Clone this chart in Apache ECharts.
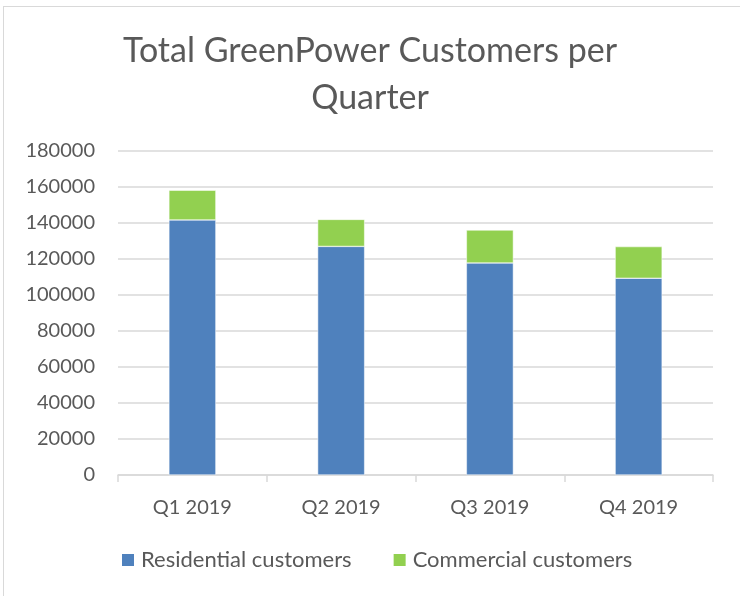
<!DOCTYPE html>
<html>
<head>
<meta charset="utf-8">
<script src="https://cdn.jsdelivr.net/npm/echarts@6/dist/echarts.min.js"></script>
<style>
  html, body { margin: 0; padding: 0; background: #fff; overflow: hidden; }
  #frame { position: absolute; left: 3px; top: 6px; width: 760px; height: 620px; border: 1px solid #d9d9d9; }
  #chart { position: absolute; left: 0; top: 0; width: 740px; height: 596px; }
</style>
</head>
<body>
<div id="frame"></div>
<div id="chart"></div>
<script>
  // data
  const quarters = ['Q1 2019', 'Q2 2019', 'Q3 2019', 'Q4 2019'];
  const residential = [141700, 127000, 117800, 109300];
  const commercial = [16500, 15000, 18300, 17600];

  const fontName = 'Lato, "Open Sans", sans-serif';
  const chart = echarts.init(document.getElementById('chart'));
  chart.setOption({
    animation: false,
    title: {
      text: 'Total GreenPower Customers per\nQuarter',
      left: 'center',
      top: 23,
      textStyle: { fontFamily: fontName, fontSize: 34, fontWeight: 'normal', color: '#595959', lineHeight: 47 }
    },
    legend: {
      data: ['Residential customers', 'Commercial customers'],
      left: 115,
      top: 544,
      icon: 'rect',
      itemWidth: 14,
      itemHeight: 14,
      itemGap: 40,
      textStyle: { fontFamily: fontName, fontSize: 22, color: '#595959', padding: [0, 0, 0, 1] }
    },
    grid: { left: 118, right: 27, top: 151, bottom: 121 },
    xAxis: {
      type: 'category',
      data: quarters,
      axisLine: { lineStyle: { color: '#d9d9d9', width: 1.5 } },
      axisTick: { show: true, length: 7, lineStyle: { color: '#d9d9d9', width: 1.5 } },
      axisLabel: { fontFamily: fontName, fontSize: 20, color: '#595959', margin: 23 }
    },
    yAxis: {
      type: 'value',
      min: 0,
      max: 180000,
      interval: 20000,
      axisLine: { show: false },
      axisTick: { show: false },
      splitLine: { lineStyle: { color: '#d9d9d9', width: 1.5 } },
      axisLabel: {
        fontFamily: fontName, fontSize: 20, color: '#595959', margin: 23,
        formatter: function (v) { return String(v); }
      }
    },
    series: [
      {
        name: 'Residential customers',
        type: 'bar',
        stack: 'total',
        data: residential,
        barWidth: 47,
        itemStyle: { color: '#4f81bd', borderColor: '#fff', borderWidth: 0.5 }
      },
      {
        name: 'Commercial customers',
        type: 'bar',
        stack: 'total',
        data: commercial,
        barWidth: 47,
        itemStyle: { color: '#92d050', borderColor: '#fff', borderWidth: 0.5 }
      }
    ]
  });
</script>
</body>
</html>
